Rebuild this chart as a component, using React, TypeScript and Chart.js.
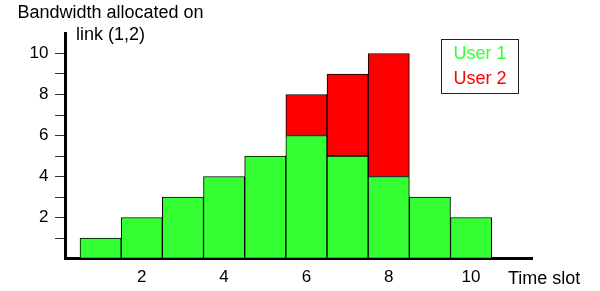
import React, { useEffect, useRef } from 'react';
import { Chart, registerables } from 'chart.js';

Chart.register(...registerables);

// ---- data ----
const timeSlots = [1, 2, 3, 4, 5, 6, 7, 8, 9, 10];
const user1Values = [1, 2, 3, 4, 5, 6, 5, 4, 3, 2];
const user2Values: (number | null)[] = [null, null, null, null, null, 2, 4, 6, null, null];
const xTickValues = [2, 4, 6, 8, 10];
const yTickValues = [1, 2, 3, 4, 5, 6, 7, 8, 9, 10];
const seriesNames = ['User 1', 'User 2'];
const titleLines = ['Bandwidth allocated on', 'link (1,2)'];
const xAxisTitle = 'Time slot';

const GREEN = '#33ff33';
const RED = '#ff0000';
const FONT = '"Liberation Sans", Arial, Helvetica, sans-serif';

const textPlugin = {
  id: 'customTexts',
  afterDraw(chart: any) {
    const ctx = chart.ctx as CanvasRenderingContext2D;
    ctx.save();
    ctx.font = `18px ${FONT}`;
    ctx.fillStyle = '#000';
    ctx.textAlign = 'center';
    ctx.textBaseline = 'alphabetic';
    ctx.fillText(titleLines[0], 110.5, 17.5);
    ctx.fillText(titleLines[1], 110.5, 40);

    ctx.textAlign = 'left';
    ctx.fillText(xAxisTitle, 508, 283.5);

    // legend box
    ctx.strokeStyle = '#222';
    ctx.lineWidth = 1;
    ctx.strokeRect(441.5, 39.5, 77, 54);
    ctx.textAlign = 'center';
    const ds = chart.data.datasets;
    ctx.fillStyle = ds[0].backgroundColor;
    ctx.fillText(ds[0].label, 480, 58.5);
    ctx.fillStyle = ds[1].backgroundColor;
    ctx.fillText(ds[1].label, 480, 83.5);
    ctx.restore();
  },
};

export default function App() {
  const canvasRef = useRef<HTMLCanvasElement | null>(null);

  useEffect(() => {
    document.body.style.margin = '0';
    const canvas = canvasRef.current;
    if (!canvas) return;
    Chart.defaults.font.family = FONT;
    const chart = new Chart(canvas, {
      type: 'bar',
      data: {
        datasets: [
          {
            label: seriesNames[0],
            data: timeSlots.map((t, i) => ({ x: t, y: user1Values[i] })),
            backgroundColor: GREEN,
            borderColor: '#000',
            borderWidth: 1,
            borderSkipped: false,
            barPercentage: 1,
            categoryPercentage: 1,
          },
          {
            label: seriesNames[1],
            data: timeSlots.map((t, i) => ({ x: t, y: user2Values[i] as any })),
            backgroundColor: RED,
            borderColor: '#000',
            borderWidth: 1,
            borderSkipped: false,
            barPercentage: 1,
            categoryPercentage: 1,
          },
        ],
      },
      options: {
        responsive: false,
        animation: false,
        layout: { padding: { top: 33, right: 68, left: 0, bottom: 0 } },
        plugins: {
          legend: { display: false },
          tooltip: { enabled: false },
          title: { display: false },
        },
        scales: {
          x: {
            type: 'linear',
            stacked: true,
            offset: false,
            min: 0.135,
            max: 11.48,
            afterBuildTicks: (scale: any) => {
              scale.ticks = xTickValues.map((v) => ({ value: v }));
            },
            afterFit: (scale: any) => {
              scale.height = 32.5;
            },
            grid: { display: true, offset: false, drawOnChartArea: false, drawTicks: false },
            border: { display: true, color: '#000', width: 3 },
            ticks: {
              color: '#000',
              font: { size: 17, family: FONT },
              padding: 9,
              maxRotation: 0,
              callback: (v: any) => String(v),
            },
          },
          y: {
            stacked: true,
            min: 0,
            max: 11,
            afterBuildTicks: (scale: any) => {
              scale.ticks = yTickValues.map((v) => ({ value: v }));
            },
            afterFit: (scale: any) => {
              scale.width = 65;
            },
            grid: {
              display: true,
              drawOnChartArea: false,
              drawTicks: true,
              tickLength: 10,
              tickColor: '#333',
              tickWidth: 1,
            },
            border: { display: true, color: '#000', width: 3 },
            ticks: {
              color: '#000',
              font: { size: 17, family: FONT },
              padding: 6.5,
              callback: (v: any) => (Number(v) % 2 === 0 ? String(v) : ''),
            },
          },
        },
      },
      plugins: [textPlugin],
    } as any);
    return () => chart.destroy();
  }, []);

  return (
    <div style={{ width: 600, height: 291 }}>
      <canvas ref={canvasRef} width={600} height={291} style={{ display: 'block' }} />
    </div>
  );
}
